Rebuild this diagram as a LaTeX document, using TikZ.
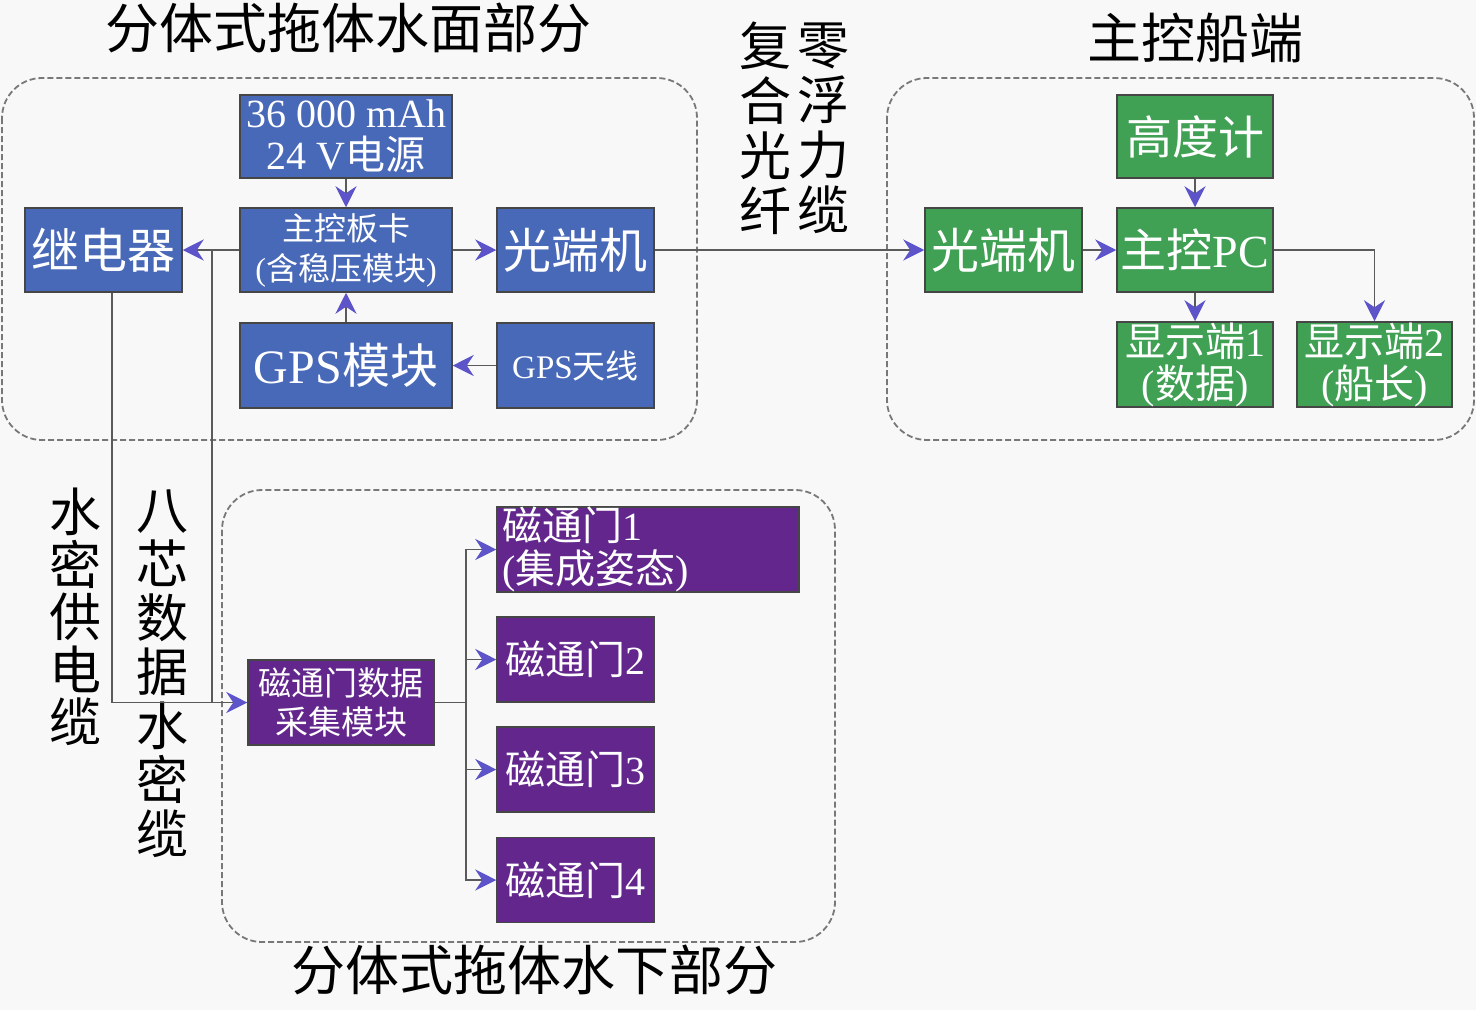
\documentclass[tikz,border=0pt]{standalone}
\usepackage{fontspec}
\setmainfont{Liberation Serif}
\newfontfamily\cjk{Noto Sans CJK SC}
\usetikzlibrary{arrows.meta}
\definecolor{bgc}{RGB}{248,248,248}
\definecolor{bluebox}{RGB}{72,104,184}
\definecolor{greenbox}{RGB}{64,160,84}
\definecolor{purplebox}{RGB}{98,38,140}
\definecolor{boxline}{RGB}{70,70,70}
\definecolor{wirec}{RGB}{90,90,90}
\definecolor{tipc}{RGB}{92,84,200}
\definecolor{framec}{RGB}{120,120,120}
\tikzset{
  box/.style={draw=boxline,line width=1.5pt,inner sep=0pt,align=center,text=white,minimum height=84pt},
  bbox/.style={box,fill=bluebox},
  gbox/.style={box,fill=greenbox},
  pbox/.style={box,fill=purplebox},
  wire/.style={draw=wirec,line width=1.8pt},
  arr/.style={wire,-{Stealth[length=21pt,width=21pt,inset=7pt,color=tipc]}},
  group/.style={draw=framec,dash pattern=on 6pt off 3pt,line width=1.8pt,rounded corners=40pt},
  title/.style={font=\cjk\fontsize{54}{56}\selectfont,text=black},
  vlabel/.style={align=center,text=black},
}
\begin{document}
\begin{tikzpicture}[x=1pt,y=-1pt]
\fill[bgc] (0,0) rectangle (1476,1010);
\useasboundingbox (0,0) rectangle (1476,1010);
% groups
\draw[group] (2,78) rectangle (697,440);
\draw[group] (887,78) rectangle (1474,440);
\draw[group] (222,490) rectangle (835,942);
% titles
\node[title] (t1) at (348,28) {分体式拖体水面部分};
\node[title] (t2) at (1195,38) {主控船端};
\node[title] (t3) at (534,970) {分体式拖体水下部分};
% surface part
\node[bbox,minimum width=212pt,minimum height=83pt,font=\fontsize{40}{42}\selectfont] (pwr) at (346,136.5) {36 000 mAh\\24 V{\cjk 电源}};
\node[bbox,minimum width=212pt,font=\fontsize{32}{40}\selectfont] (mcb) at (346,250) {{\cjk 主控板卡}\\({\cjk 含稳压模块})};
\node[bbox,minimum width=157pt,font=\cjk\fontsize{48}{52}\selectfont] (relay) at (103.5,250) {继电器};
\node[bbox,minimum width=157pt,font=\cjk\fontsize{48}{52}\selectfont] (oteL) at (575.5,250) {光端机};
\node[bbox,minimum width=212pt,minimum height=85pt,font=\fontsize{48}{52}\selectfont] (gps) at (346,365.5) {GPS{\cjk 模块}};
\node[bbox,minimum width=157pt,minimum height=85pt,font=\fontsize{33}{40}\selectfont] (ant) at (575.5,365.5) {GPS{\cjk 天线}};
% ship part
\node[gbox,minimum width=156pt,minimum height=83pt,font=\cjk\fontsize{46}{50}\selectfont] (alt) at (1195,136.5) {高度计};
\node[gbox,minimum width=157pt,font=\cjk\fontsize{48}{52}\selectfont] (oteR) at (1003.5,250) {光端机};
\node[gbox,minimum width=156pt,font=\fontsize{46}{50}\selectfont] (pc) at (1195,250) {{\cjk 主控}PC};
\node[gbox,minimum width=156pt,minimum height=85pt,font=\fontsize{40}{42}\selectfont] (d1) at (1195,364.5) {{\cjk 显示端}1\\({\cjk 数据})};
\node[gbox,minimum width=155pt,minimum height=85pt,font=\fontsize{40}{42}\selectfont] (d2) at (1374.5,364.5) {{\cjk 显示端}2\\({\cjk 船长})};
% underwater part
\node[pbox,minimum width=186pt,minimum height=85pt,font=\cjk\fontsize{33}{39}\selectfont] (acq) at (341,702.5) {磁通门数据\\采集模块};
\node[pbox,minimum width=302pt,minimum height=85pt,text width=292pt,align=left,font=\fontsize{40}{43}\selectfont] (m1) at (648,549.5) {{\cjk 磁通门}1\\({\cjk 集成姿态})};
\node[pbox,minimum width=157pt,minimum height=85pt,font=\fontsize{40}{43}\selectfont] (m2) at (575.5,659.5) {{\cjk 磁通门}2};
\node[pbox,minimum width=157pt,minimum height=85pt,font=\fontsize{40}{43}\selectfont] (m3) at (575.5,769.5) {{\cjk 磁通门}3};
\node[pbox,minimum width=157pt,minimum height=85pt,font=\fontsize{40}{43}\selectfont] (m4) at (575.5,880) {{\cjk 磁通门}4};
% vertical labels
\node[vlabel,font=\cjk\fontsize{52}{55}\selectfont] (l1) at (765,128) {复\\合\\光\\纤};
\node[vlabel,font=\cjk\fontsize{52}{55}\selectfont] (l2) at (823,128) {零\\浮\\力\\缆};
\node[vlabel,font=\cjk\fontsize{52}{52.5}\selectfont] (l3) at (75,617) {水\\密\\供\\电\\缆};
\node[vlabel,font=\cjk\fontsize{52}{54}\selectfont] (l4) at (162,674) {八\\芯\\数\\据\\水\\密\\缆};
% connectors
\draw[arr] (pwr) -- (mcb);
\draw[arr] (gps) -- (mcb);
\draw[arr] (mcb) -- (oteL);
\draw[arr] (mcb) -- (relay);
\draw[arr] (ant) -- (gps);
\draw[arr] (oteL) -- (oteR);
\draw[arr] (oteR) -- (pc);
\draw[arr] (alt) -- (pc);
\draw[arr] (pc) -- (d1);
\draw[arr] (pc.east) -| (d2.north);
\coordinate (j1) at (212,250);
\draw[wire] ([xshift=8.5pt]relay.south) |- (acq.west);
\draw[arr] (j1) |- (acq.west);
\coordinate (bus) at (466,702.5);
\draw[wire] (acq.east) -- (bus);
\draw[arr] (bus) |- (m1.west);
\draw[arr] (bus) |- (m2.west);
\draw[arr] (bus) |- (m3.west);
\draw[arr] (bus) |- (m4.west);
\end{tikzpicture}
\end{document}
